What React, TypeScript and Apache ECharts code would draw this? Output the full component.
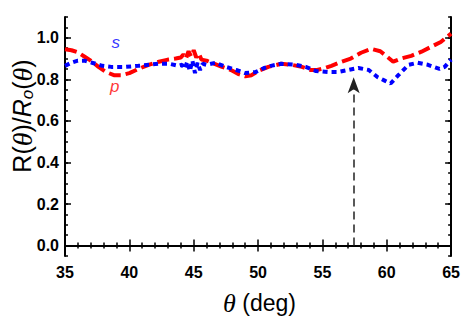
import React, { useEffect, useRef } from "react";
import * as echarts from "echarts";

const P_DEG = [35.0, 35.5, 36.0, 36.5, 37.0, 37.6, 38.2, 38.8, 39.4, 40.0, 40.7, 41.5, 42.3, 43.0, 43.6, 44.0, 44.2, 44.4, 44.6, 44.8, 45.0, 45.2, 45.4, 45.6, 46.0, 46.4, 47.2, 47.9, 48.5, 49.0, 49.5, 50.0, 50.8, 51.8, 52.6, 53.4, 54.1, 54.6, 55.2, 55.7, 56.5, 57.2, 58.0, 58.8, 59.5, 60.0, 60.5, 61.1, 61.9, 62.7, 63.4, 64.2, 65.0];
const P_VAL = [0.945, 0.94, 0.93, 0.91, 0.89, 0.86, 0.835, 0.82, 0.82, 0.83, 0.85, 0.87, 0.885, 0.895, 0.9, 0.905, 0.92, 0.9, 0.935, 0.91, 0.94, 0.905, 0.925, 0.895, 0.89, 0.88, 0.86, 0.845, 0.825, 0.815, 0.82, 0.84, 0.86, 0.875, 0.87, 0.86, 0.845, 0.845, 0.855, 0.865, 0.885, 0.9, 0.928, 0.947, 0.935, 0.91, 0.885, 0.9, 0.913, 0.933, 0.955, 0.98, 1.02];

const S_DEG = [35.0, 35.5, 36.0, 36.5, 37.1, 37.9, 38.6, 39.7, 40.7, 41.5, 42.3, 43.1, 43.8, 44.1, 44.3, 44.5, 44.7, 44.9, 45.1, 45.3, 45.5, 45.7, 46.0, 46.7, 47.5, 48.3, 49.0, 49.8, 50.5, 51.0, 51.8, 52.9, 53.7, 54.5, 55.5, 56.2, 57.0, 57.8, 58.6, 59.3, 59.8, 60.3, 60.9, 61.7, 62.4, 63.2, 64.1, 64.5, 65.0];
const S_VAL = [0.865, 0.88, 0.89, 0.89, 0.88, 0.865, 0.86, 0.86, 0.865, 0.87, 0.875, 0.875, 0.865, 0.87, 0.85, 0.885, 0.84, 0.89, 0.83, 0.88, 0.845, 0.875, 0.87, 0.88, 0.86, 0.845, 0.83, 0.835, 0.855, 0.865, 0.875, 0.87, 0.86, 0.84, 0.835, 0.835, 0.845, 0.855, 0.845, 0.81, 0.795, 0.78, 0.82, 0.87, 0.88, 0.87, 0.85, 0.86, 0.895];

const X_MIN = 35;
const X_MAX = 65;
const X_STEP = 5;
const Y_MIN = -0.05;
const Y_MAX = 1.1;
const Y_MAJOR = [0, 0.2, 0.4, 0.6, 0.8, 1.0];
const Y_MINOR_STEP = 0.05;

const ARROW_X = 57.43;
const ARROW_Y = [0, 0.81];

const S_LABEL = [38.94, 0.975];
const P_LABEL = [38.87, 0.765];

const RED = "#ff0000";
const BLUE = "#0000ff";

export default function App() {
  const ref = useRef<HTMLDivElement>(null);
  useEffect(() => {
    const chart = echarts.init(ref.current!, null, { renderer: "svg" });
    const labelFont = { fontFamily: "Liberation Sans", fontWeight: "bold", fontSize: 16, color: "#000" };
    const tickStyle = { color: "#000", width: 1.5 };
    const majorY = (pos: string, labels: boolean) => ({
      type: "value",
      position: pos,
      min: Y_MIN,
      max: Y_MAX,
      axisLine: { show: true, lineStyle: { color: "#000", width: 2 } },
      axisTick: { show: true, inside: true, length: 6, lineStyle: tickStyle, customValues: Y_MAJOR },
      axisLabel: labels
        ? { show: true, ...labelFont, margin: 6, customValues: Y_MAJOR, formatter: (v: number) => v.toFixed(1) }
        : { show: false },
      splitLine: { show: false },
    });
    const minorY = (pos: string) => ({
      type: "value",
      position: pos,
      min: Y_MIN,
      max: Y_MAX,
      interval: Y_MINOR_STEP,
      axisLine: { show: false },
      axisTick: { show: true, inside: true, length: 3, lineStyle: tickStyle },
      axisLabel: { show: false },
      splitLine: { show: false },
    });
    const xAx = (pos: string, labels: boolean) => ({
      type: "value",
      position: pos,
      min: X_MIN,
      max: X_MAX,
      interval: X_STEP,
      axisLine: { show: true, lineStyle: { color: "#000", width: 2 } },
      axisTick: { show: true, inside: true, length: 6, lineStyle: tickStyle },
      minorTick: { show: true, splitNumber: 5, length: 3, lineStyle: tickStyle },
      axisLabel: labels ? { show: true, ...labelFont, margin: 8 } : { show: false },
      splitLine: { show: false },
      minorSplitLine: { show: false },
    });

    chart.setOption({
      animation: false,
      grid: { left: 65, right: 10, top: 17, bottom: 63, containLabel: false },
      xAxis: [xAx("bottom", true), xAx("top", false)],
      yAxis: [majorY("left", true), minorY("left"), majorY("right", false), minorY("right")],
      graphic: [
        {
          type: "text",
          x: 259.5,
          y: 303,
          style: {
            text: "{t|θ}{a| (deg)}",
            align: "center",
            verticalAlign: "middle",
            rich: {
              t: { fontFamily: "Liberation Serif", fontStyle: "italic", fontSize: 26, fill: "#000" },
              a: { fontFamily: "Liberation Sans", fontSize: 23, fill: "#000" },
            },
          },
        },
        {
          type: "text",
          x: 22,
          y: 116,
          rotation: Math.PI / 2,
          style: {
            text: "{a|R(}{t|θ}{a|)/}{i|R}{s|o}{a|(}{t|θ}{a|)}",
            align: "center",
            verticalAlign: "middle",
            rich: {
              a: { fontFamily: "Liberation Sans", fontSize: 25, fill: "#000" },
              i: { fontFamily: "Liberation Sans", fontStyle: "italic", fontSize: 25, fill: "#000" },
              t: { fontFamily: "Liberation Serif", fontStyle: "italic", fontSize: 28, fill: "#000" },
              s: { fontFamily: "Liberation Sans", fontStyle: "italic", fontSize: 17, fill: "#000", verticalAlign: "bottom", lineHeight: 2 },
            },
          },
        },
      ],
      series: [
        {
          type: "line",
          xAxisIndex: 0,
          yAxisIndex: 0,
          data: P_DEG.map((d, i) => [d, P_VAL[i]]),
          showSymbol: false,
          lineStyle: { color: RED, width: 4, type: [12, 5] },
          markLine: {
            silent: true,
            symbol: ["none", "arrow"],
            symbolSize: [9, 16],
            label: { show: false },
            lineStyle: { color: "#222", width: 1.5, type: [8, 5] },
            data: [[{ coord: [ARROW_X, ARROW_Y[0]] }, { coord: [ARROW_X, ARROW_Y[1]] }]],
          },
        },
        {
          type: "line",
          xAxisIndex: 0,
          yAxisIndex: 0,
          data: S_DEG.map((d, i) => [d, S_VAL[i]]),
          showSymbol: false,
          lineStyle: { color: BLUE, width: 4, type: [5, 4] },
        },
        {
          type: "scatter",
          xAxisIndex: 0,
          yAxisIndex: 0,
          symbolSize: 0,
          data: [S_LABEL],
          label: { show: true, position: "inside", formatter: "s", fontFamily: "Liberation Sans", fontStyle: "italic", fontSize: 17, color: BLUE },
        },
        {
          type: "scatter",
          xAxisIndex: 0,
          yAxisIndex: 0,
          symbolSize: 0,
          data: [P_LABEL],
          label: { show: true, position: "inside", formatter: "p", fontFamily: "Liberation Sans", fontStyle: "italic", fontSize: 17, color: RED },
        },
      ],
    });
    return () => chart.dispose();
  }, []);
  return <div ref={ref} style={{ width: 463, height: 319, position: "absolute", left: 0, top: 0 }} />;
}
